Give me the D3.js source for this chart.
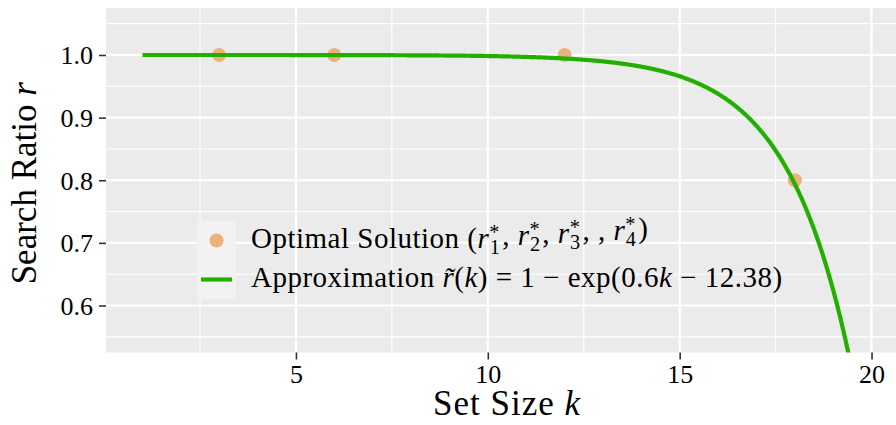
<!DOCTYPE html>
<html>
<head>
<meta charset="utf-8">
<script src="https://cdn.jsdelivr.net/npm/d3@7"></script>
<style>
  html, body { margin: 0; padding: 0; background: #fff; }
  svg { display: block; }
  text { font-family: "Liberation Serif", "DejaVu Serif", serif; fill: #000; }
</style>
</head>
<body>
<svg id="chart" width="896" height="425"></svg>
<script>
// Optimal search ratios for each set size
const setSizes = [3, 6, 12, 18];
const optimalRatios = [1.0, 1.0, 1.0, 0.8];

// Approximation r~(k) = 1 - exp(a*k - b)
const approxA = 0.6;
const approxB = 12.38;
const approxStart = 1;
const approxEnd = 20;

const xTicks = [5, 10, 15, 20];
const xMinor = [2.5, 7.5, 12.5, 17.5];
const yTicks = [0.6, 0.7, 0.8, 0.9, 1.0];
const yMinor = [0.55, 0.65, 0.75, 0.85, 0.95, 1.05];

const W = 896, H = 425;
const panel = { left: 106, top: 8, right: 908, bottom: 352.5 };
const serif = '"Liberation Serif", "DejaVu Serif", serif';

const svg = d3.select("#chart");

const x = d3.scaleLinear().domain([0.05, 20.95]).range([panel.left, panel.right]);
const y = d3.scaleLinear().domain([0.525, 1.075]).range([panel.bottom, panel.top]);

svg.append("defs").append("clipPath").attr("id", "panelClip")
  .append("rect")
  .attr("x", panel.left).attr("y", panel.top)
  .attr("width", panel.right - panel.left).attr("height", panel.bottom - panel.top);

// Panel background
svg.append("rect")
  .attr("x", panel.left).attr("y", panel.top)
  .attr("width", panel.right - panel.left).attr("height", panel.bottom - panel.top)
  .attr("fill", "#EBEBEB");

const grid = svg.append("g").attr("clip-path", "url(#panelClip)");

// Minor grid
grid.selectAll(".ymin").data(yMinor).join("line")
  .attr("x1", panel.left).attr("x2", panel.right)
  .attr("y1", d => y(d)).attr("y2", d => y(d))
  .attr("stroke", "#fff").attr("stroke-width", 1.1);
grid.selectAll(".xmin").data(xMinor).join("line")
  .attr("y1", panel.top).attr("y2", panel.bottom)
  .attr("x1", d => x(d)).attr("x2", d => x(d))
  .attr("stroke", "#fff").attr("stroke-width", 1.1);

// Major grid
grid.selectAll(".ymaj").data(yTicks).join("line")
  .attr("x1", panel.left).attr("x2", panel.right)
  .attr("y1", d => y(d)).attr("y2", d => y(d))
  .attr("stroke", "#fff").attr("stroke-width", 2.2);
grid.selectAll(".xmaj").data(xTicks).join("line")
  .attr("y1", panel.top).attr("y2", panel.bottom)
  .attr("x1", d => x(d)).attr("x2", d => x(d))
  .attr("stroke", "#fff").attr("stroke-width", 2.2);

// Axes
const xAxis = svg.append("g")
  .attr("transform", `translate(0,${panel.bottom})`)
  .call(d3.axisBottom(x).tickValues(xTicks).tickSize(7).tickPadding(4).tickFormat(d3.format("d")));
const yAxis = svg.append("g")
  .attr("transform", `translate(${panel.left},0)`)
  .call(d3.axisLeft(y).tickValues(yTicks).tickSize(7).tickPadding(6).tickFormat(d3.format(".1f")));

[xAxis, yAxis].forEach(g => {
  g.attr("font-family", serif).attr("font-size", 26);
  g.select(".domain").remove();
  g.selectAll(".tick line").attr("stroke", "#333").attr("stroke-width", 1.6);
  g.selectAll(".tick text")
    .attr("fill", "#000")
    .style("font-family", serif)
    .style("font-size", "26px");
});
xAxis.selectAll(".tick text").attr("dy", "0.75em");
yAxis.selectAll(".tick text").attr("dy", "0.34em");

const plot = svg.append("g").attr("clip-path", "url(#panelClip)");

const pointColor = "#EDB27C";
const lineColor = "#22B000";

// Optimal solution points
plot.selectAll(".pt").data(setSizes.map((k, i) => ({ k, r: optimalRatios[i] }))).join("circle")
  .attr("cx", d => x(d.k)).attr("cy", d => y(d.r)).attr("r", 7)
  .attr("fill", pointColor);

// Approximation curve
const curveData = d3.range(approxStart, approxEnd + 1e-9, 0.02)
  .map(k => ({ k, r: 1 - Math.exp(approxA * k - approxB) }));
plot.append("path")
  .datum(curveData)
  .attr("fill", "none")
  .attr("stroke", lineColor)
  .attr("stroke-width", 4.2)
  .attr("d", d3.line().x(d => x(d.k)).y(d => y(d.r)));

// Axis titles
svg.append("text")
  .attr("x", (panel.left + panel.right) / 2).attr("y", 415)
  .attr("text-anchor", "middle")
  .style("font-size", "35px")
  .style("letter-spacing", "1px")
  .call(t => {
    t.append("tspan").text("Set Size ");
    t.append("tspan").attr("font-style", "italic").text("k");
  });

svg.append("text")
  .attr("transform", `translate(36,${(panel.top + panel.bottom) / 2 + 3}) rotate(-90)`)
  .attr("text-anchor", "middle")
  .style("font-size", "35px")
  .call(t => {
    t.append("tspan").text("Search Ratio ");
    t.append("tspan").attr("font-style", "italic").text("r");
  });

// Legend
const legend = svg.append("g");
legend.append("rect")
  .attr("x", 197).attr("y", 221).attr("width", 39).attr("height", 78)
  .attr("fill", "#F2F2F2");
legend.append("circle")
  .attr("cx", 216.5).attr("cy", 240.5).attr("r", 7).attr("fill", pointColor);
legend.append("line")
  .attr("x1", 201).attr("x2", 232).attr("y1", 279.5).attr("y2", 279.5)
  .attr("stroke", lineColor).attr("stroke-width", 4.2);

const legendFont = 29;
const l1 = legend.append("text").attr("x", 251).attr("y", 248)
  .style("font-size", legendFont + "px").style("letter-spacing", "0.5px");
l1.append("tspan").text("Optimal Solution (");
// r*_n terms with stacked superscript star and subscript index
const terms = [1, 2, 3, null, 4];
terms.forEach((n, i) => {
  const sep = i === terms.length - 1 ? ")" : ", ";
  if (n === null) { l1.append("tspan").text(sep); return; }
  l1.append("tspan").attr("font-style", "italic").text("r");
  l1.append("tspan").attr("font-size", "0.7em").attr("dy", "-0.45em").text("*");
  l1.append("tspan").attr("font-size", "0.7em").attr("dx", "-0.5em").attr("dy", "0.75em").text(n);
  l1.append("tspan").attr("dy", "-0.3em").attr("dx", "0.06em").text(sep);
});

const l2 = legend.append("text").attr("x", 251).attr("y", 287)
  .style("font-size", legendFont + "px").style("letter-spacing", "0.5px");
l2.append("tspan").text("Approximation ");
l2.append("tspan").attr("font-style", "italic").text("r\u0303");
l2.append("tspan").text("(");
l2.append("tspan").attr("font-style", "italic").text("k");
l2.append("tspan").text(") = 1 \u2212 exp(0.6");
l2.append("tspan").attr("font-style", "italic").text("k");
l2.append("tspan").text(" \u2212 12.38)");
</script>
</body>
</html>
